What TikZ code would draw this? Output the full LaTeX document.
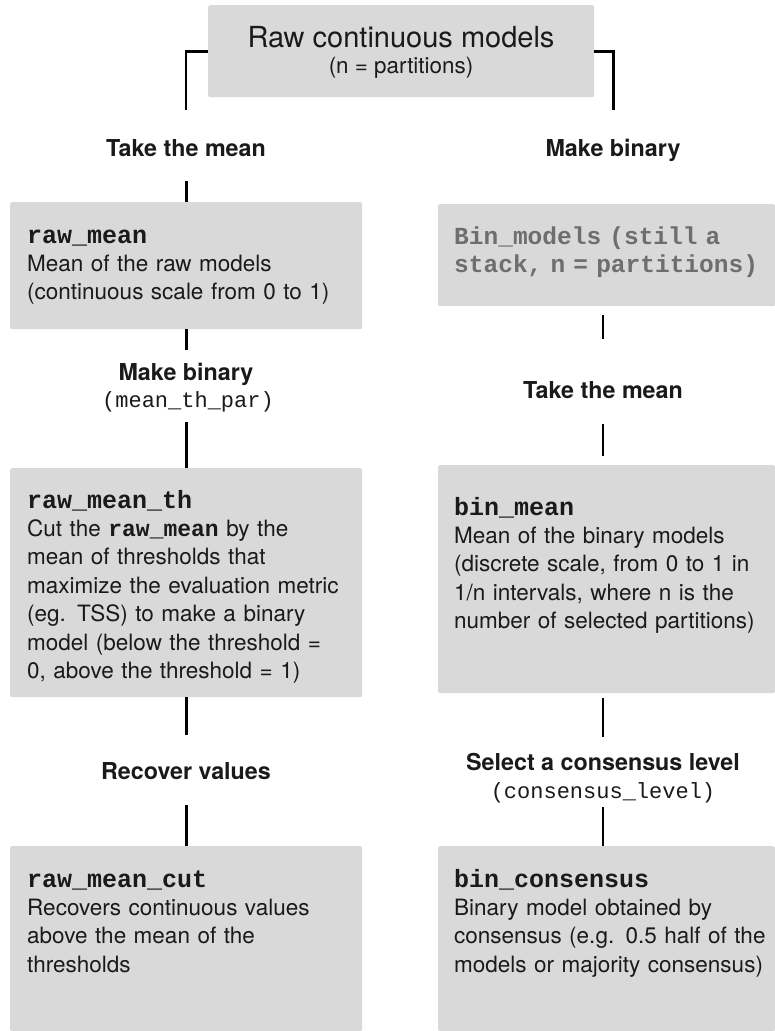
\documentclass[tikz,border=0pt]{standalone}
\usepackage{fontspec}
\setmainfont{TeX Gyre Heros}
\setmonofont{Liberation Mono}
\usetikzlibrary{positioning}
\definecolor{boxgray}{HTML}{D9D9D9}
\definecolor{stackgray}{HTML}{6E6E6E}
\definecolor{inkblack}{HTML}{1A1A1A}
\newcommand{\objname}[1]{{\fontsize{25}{28}\selectfont\ttfamily\bfseries #1}}
\newcommand{\inlinename}[1]{{\fontsize{23}{28}\selectfont\ttfamily\bfseries #1}}

\begin{document}
\begin{tikzpicture}[x=1pt, y=-1pt, text=inkblack,
    box/.style={fill=boxgray, rounded corners=1.5pt, anchor=north west, inner sep=0pt},
    boxtxt/.style={anchor=base west, inner sep=0pt, align=left, text width=330pt, font=\fontsize{22.5}{28.4}\selectfont},
    steplbl/.style={anchor=base, inner sep=0pt, font=\fontsize{23.3}{28}\selectfont\bfseries},
    parlbl/.style={anchor=base, inner sep=0pt, font=\fontsize{22}{28}\selectfont\ttfamily},
    bar/.style={line width=2.6pt, draw=black}]
  \useasboundingbox (0,0) rectangle (775,1031);

  % top: raw models
  \node[box, minimum width=386pt, minimum height=92pt] (raw) at (208,5) {};
  \node[anchor=base, inner sep=0pt, font=\fontsize{29}{34}\selectfont] (rawtitle) at (401,47) {Raw continuous models};
  \node[anchor=base, inner sep=0pt, font=\fontsize{22.4}{28}\selectfont] (rawsub) at (401,73) {(n = partitions)};
  \draw[bar] (raw.west) -- ++(-22,0) -- ++(0,59);
  \draw[bar] (raw.east) -- ++(19,0) -- ++(0,59);

  % left branch
  \node[steplbl] (meanL) at (186,156) {Take the mean};
  \node[box, minimum width=352pt, minimum height=127pt] (rawmean) at (10,202) {};
  \node[boxtxt] (rawmeantxt) at ([xshift=17pt,yshift=-41pt]rawmean.north west)
    {\objname{raw\_mean}\\ Mean of the raw models\\ (continuous scale from 0 to 1)};
  \draw[bar] (rawmean.north) -- ++(0,-21);
  \draw[bar] (rawmean.south) -- ++(0,21);

  \node[steplbl] (binL) at (186,380) {Make binary};
  \node[parlbl] (thpar) at (188,407) {(mean\_th\_par)};

  \node[box, minimum width=352pt, minimum height=229pt] (rawmeanth) at (10,468) {};
  \node[boxtxt] (rawmeanthtxt) at ([xshift=17pt,yshift=-40pt]rawmeanth.north west)
    {\objname{raw\_mean\_th}\\ Cut the \inlinename{raw\_mean} by the\\ mean of thresholds that\\
     maximize the evaluation metric\\ (eg. TSS) to make a binary\\ model (below the threshold =\\
     0, above the threshold = 1)};
  \draw[bar] (rawmeanth.north) -- ++(0,-46);
  \draw[bar] (rawmeanth.south) -- ++(0,38);

  \node[steplbl] (recover) at (186,779) {Recover values};

  \node[box, minimum width=352pt, minimum height=185pt] (rawmeancut) at (10,846) {};
  \node[boxtxt] (rawmeancuttxt) at ([xshift=17pt,yshift=-41pt]rawmeancut.north west)
    {\objname{raw\_mean\_cut}\\ Recovers continuous values\\ above the mean of the\\ thresholds};
  \draw[bar] (rawmeancut.north) -- ++(0,-41);

  % right branch
  \node[steplbl] (binR) at (613,156) {Make binary};
  \node[box, minimum width=337pt, minimum height=102pt] (binmodels) at (438,204) {};
  \node[boxtxt, text=stackgray, font=\fontsize{24.5}{28}\selectfont\ttfamily\bfseries] (binmodelstxt)
    at ([xshift=16pt,yshift=-40pt]binmodels.north west) {Bin\_models (still a\\ stack, n = partitions)};

  \node[steplbl] (meanR) at (603,398) {Take the mean};
  \draw[bar] (binmodels.south -| meanR) ++(0,9) -- ++(0,24);

  \node[box, minimum width=337pt, minimum height=228pt] (binmean) at (438,465) {};
  \node[boxtxt] (binmeantxt) at ([xshift=16pt,yshift=-50pt]binmean.north west)
    {\objname{bin\_mean}\\ Mean of the binary models\\ (discrete scale, from 0 to 1 in\\
     1/n intervals, where n is the\\ number of selected partitions)};
  \draw[bar] (binmean.north -| meanR) ++(0,-9) -- ++(0,-32);
  \draw[bar] (binmean.south -| meanR) ++(0,5) -- ++(0,39);

  \node[steplbl] (consR) at (603,770) {Select a consensus level};
  \node[parlbl] (conspar) at (603,798) {(consensus\_level)};

  \node[box, minimum width=337pt, minimum height=185pt] (bincons) at (438,846) {};
  \node[boxtxt] (binconstxt) at ([xshift=16pt,yshift=-41pt]bincons.north west)
    {\objname{bin\_consensus}\\ Binary model obtained by\\ consensus (e.g. 0.5 half of the\\
     models or majority consensus)};
  \draw[bar] (bincons.north -| consR) -- ++(0,-39);
\end{tikzpicture}
\end{document}
